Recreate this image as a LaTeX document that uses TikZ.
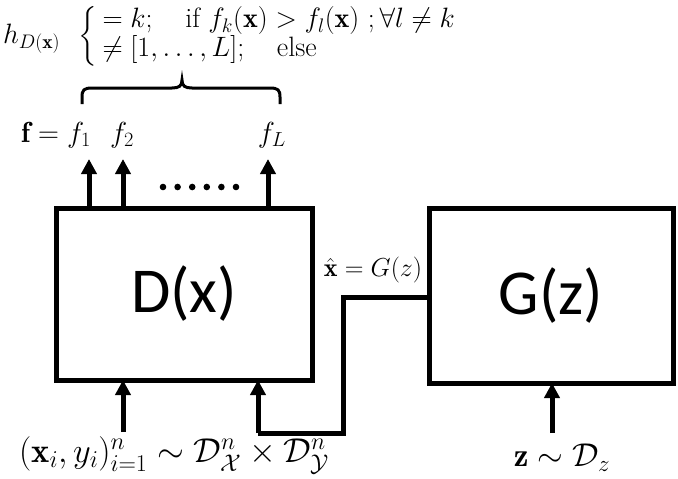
\RequirePackage{fix-cm}
\documentclass[tikz,border=0pt]{standalone}
\usepackage{amsmath}
\usepackage{fontspec}
\newfontfamily\boxfont{Carlito}
\usetikzlibrary{arrows.meta}
\begin{document}
\begin{tikzpicture}[x=1pt,y=-1pt,
  blk/.style={draw,line width=5pt,inner sep=0pt,outer sep=0pt,font=\boxfont\fontsize{64}{70}\selectfont},
  arr/.style={line width=5pt,-{Triangle[width=15pt,length=15pt]}},
  wire/.style={line width=5pt},
  lbl/.style={inner sep=0pt,font=\fontsize{29}{33}\selectfont},
  inlbl/.style={inner sep=0pt,font=\fontsize{33}{37}\selectfont},
  eqn/.style={inner sep=0pt,font=\fontsize{28}{27}\selectfont},
  xlbl/.style={inner sep=0pt,font=\fontsize{26}{30}\selectfont}]
\useasboundingbox (0,0) rectangle (678,479);
% boxes
\node[blk,minimum width=256pt,minimum height=172pt] (D) at (184,294) {D(x)};
\node[blk,minimum width=244pt,minimum height=175pt] (G) at (551,295.5) {G(z)};
% top outputs
\coordinate (t1) at (89,159);
\coordinate (t2) at (123,159);
\coordinate (tL) at (268,159);
\draw[arr] (t1 |- D.north) -- (t1);
\draw[arr] (t2 |- D.north) -- (t2);
\draw[arr] (tL |- D.north) -- (tL);
\foreach \i in {0,...,5} \fill (163+\i*14.6,187) circle (3.3pt);
\node[lbl] (fl) at (56,135) {$\mathbf{f}=f_1$};
\node[lbl] (f2) at (122,135) {$f_2$};
\node[lbl] (fL) at (272,135) {$f_L$};
% brace
\draw[line width=3pt] (82,104) -- (82,97) .. controls (82,90) and (84,88) .. (92,88) -- (172,88) .. controls (179,88) and (182,86) .. (182,80) .. controls (182,86) and (185,88) .. (192,88) -- (270,88) .. controls (278,88) and (280,90) .. (280,97) -- (280,104);
% equation
\node[eqn,anchor=west] (eq) at (3,36) {$h_{D(\mathbf{x})}\hspace{14pt}\left\{\begin{array}{l} =k;\quad \text{if } f_k(\mathbf{x})>f_l(\mathbf{x})\ ;\forall l\neq k\\ \neq[1,\ldots,L];\quad \text{else}\end{array}\right.$};
% connector G -> D
\coordinate (c1) at (343,297);
\coordinate (c2) at (343,433);
\coordinate (c3) at (258,433);
\draw[wire] (G.west |- c1) -- (c1) -- (c2) -- (c3);
\draw[arr] (c3) -- (c3 |- D.south);
\node[xlbl] (xh) at (373,270) {$\hat{\mathbf{x}}=G(z)$};
% inputs
\coordinate (xin) at (123,432);
\draw[arr] (xin) -- (xin |- D.south);
\node[inlbl,font=\fontsize{34.5}{38}\selectfont] (xl) at (174,455) {$(\mathbf{x}_i,y_i)_{i=1}^n\sim\mathcal{D}_{\mathcal{X}}^n\times\mathcal{D}_{\mathcal{Y}}^n$};
\coordinate (zin) at (552,433);
\draw[arr] (zin) -- (zin |- G.south);
\node[inlbl] (zl) at (562,458) {$\mathbf{z}\sim\mathcal{D}_z$};
\end{tikzpicture}
\end{document}
